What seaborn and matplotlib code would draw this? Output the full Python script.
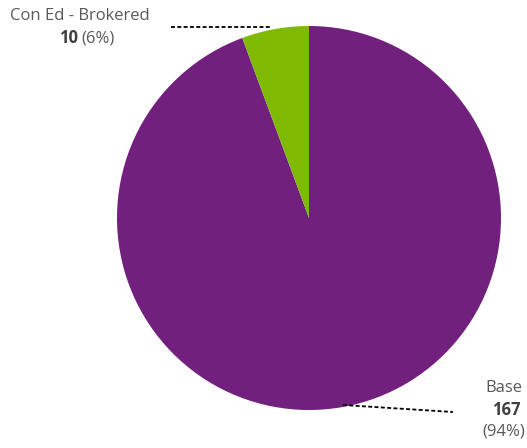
import numpy as np
import matplotlib.pyplot as plt
import seaborn as sns

labels = ["Base", "Con Ed - Brokered"]
values = [167, 10]
colors = ["#71207E", "#7FBA00"]

sns.set_theme(style="white")
plt.rcParams['font.family'] = ['Open Sans', 'DejaVu Sans']

W, H = 527, 448
fig = plt.figure(figsize=(W / 100, H / 100), dpi=100)
ax = fig.add_axes([0, 0, 1, 1])
ax.set_xlim(0, W)
ax.set_ylim(0, H)
ax.set_aspect('equal')
ax.axis('off')

# pie in pixel space (y flipped)
cx, cy, r = 309, H - 218, 192
ax.pie(values, colors=colors, startangle=90, counterclock=False,
       center=(cx, cy), radius=r, wedgeprops=dict(linewidth=0))
ax.set_xlim(0, W)
ax.set_ylim(0, H)

total = sum(values)
pcts = [round(v / total * 100) for v in values]
txt = "#595959"
bold = "#404040"
fs = 12

# Con Ed label (top-left)
ax.plot([171, 272], [H - 27, H - 27], color="black", lw=1.3, ls=(0, (2.2, 1.3)))
ax.text(80, H - 16, labels[1], ha='center', va='center', color=txt, fontsize=fs)
ax.text(78, H - 38, f"{values[1]}", ha='right', va='center', color=bold,
        fontsize=fs, fontweight='bold')
ax.text(81, H - 38, f"({pcts[1]}%)", ha='left', va='center', color=txt, fontsize=fs)

# Base label (bottom-right)
ax.plot([343, 453], [H - 405, H - 412], color="black", lw=1.3, ls=(0, (2.2, 1.3)))
ax.text(504, H - 388, labels[0], ha='center', va='center', color=txt, fontsize=fs)
ax.text(506, H - 410, f"{values[0]}", ha='center', va='center', color=bold,
        fontsize=fs, fontweight='bold')
ax.text(504, H - 431, f"({pcts[0]}%)", ha='center', va='center', color=txt, fontsize=fs)

fig.savefig("out.png", dpi=100)
